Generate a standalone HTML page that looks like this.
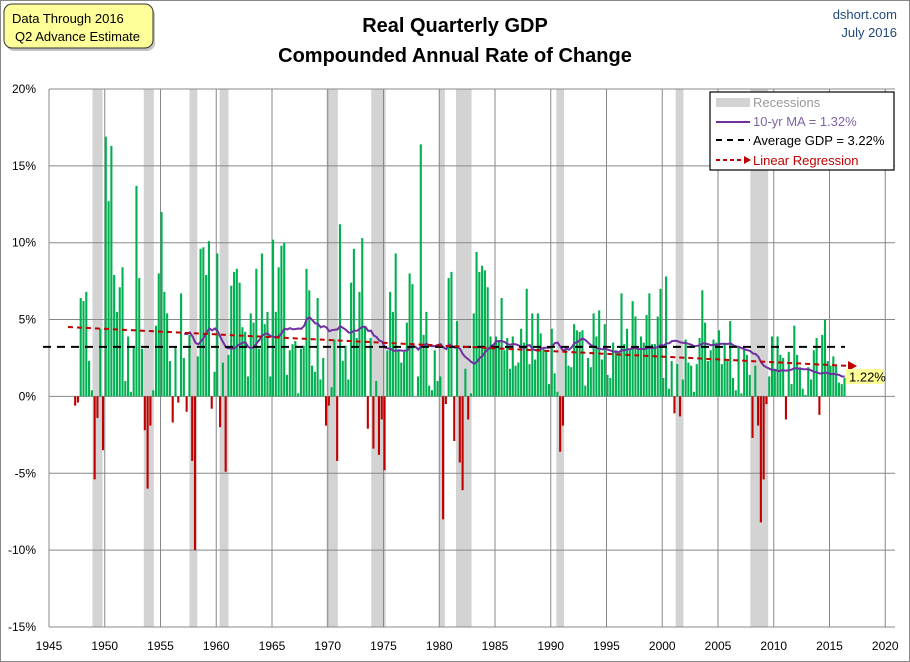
<!DOCTYPE html>
<html><head><meta charset="utf-8"><style>
body{margin:0;background:#fff;}
#c{position:relative;width:910px;height:662px;overflow:hidden;font-family:"Liberation Sans",sans-serif;}
</style></head><body><div id="c"><svg id="s" width="910" height="662" xmlns="http://www.w3.org/2000/svg"></svg></div>
<script>
var d=[-0.6,-0.4,6.4,6.2,6.8,2.3,0.4,-5.4,-1.4,4.4,-3.5,16.9,12.7,16.3,7.9,5.5,7.1,8.4,1.0,3.9,0.3,3.2,13.7,7.7,3.1,-2.2,-6.0,-1.9,0.4,4.6,8.0,12.0,6.8,5.4,2.3,-1.7,3.2,-0.4,6.7,2.5,-1.0,4.0,-4.2,-10.0,2.6,9.6,9.7,7.9,10.1,-0.8,1.6,9.3,-2.0,2.2,-4.9,2.7,7.2,8.1,8.3,7.4,4.5,4.2,1.3,5.4,4.8,8.3,3.1,9.3,4.7,5.5,1.3,10.2,5.5,8.4,9.8,10.0,1.4,3.0,3.4,3.6,0.2,3.1,3.3,8.3,6.9,2.0,1.6,6.4,1.1,2.5,-1.9,-0.6,0.6,3.7,-4.2,11.2,2.3,3.3,1.1,7.4,9.6,3.8,6.8,10.3,4.5,-2.1,3.8,-3.4,1.0,-3.8,-1.5,-4.8,3.0,6.8,5.5,9.3,3.0,2.2,2.9,4.8,8.0,7.3,0.0,1.3,16.4,4.0,5.5,0.7,0.4,3.0,1.0,1.3,-8.0,-0.5,7.7,8.1,-2.9,4.9,-4.3,-6.1,1.8,-1.5,0.2,5.4,9.4,8.1,8.5,8.2,7.1,3.9,3.3,3.9,3.6,6.4,3.0,3.8,1.8,3.9,2.0,2.2,4.4,3.5,7.0,2.1,5.4,2.4,5.4,4.1,3.1,3.0,0.8,4.4,1.5,0.3,-3.6,-1.9,3.1,2.0,1.9,4.7,4.3,4.2,4.3,0.7,2.5,1.9,5.4,3.9,5.6,2.4,4.7,1.4,1.2,3.5,3.0,2.9,6.7,3.4,4.4,3.1,6.2,5.2,3.1,3.9,3.5,5.3,6.7,3.4,3.4,5.2,7.0,1.2,7.8,0.5,2.3,-1.1,2.1,-1.3,1.1,3.7,2.2,2.0,0.3,2.1,3.8,6.9,4.8,2.3,3.0,3.7,3.5,4.3,2.1,3.4,2.3,4.9,1.2,0.4,3.2,0.2,3.1,2.7,1.4,-2.7,2.0,-1.9,-8.2,-5.4,-0.5,1.3,3.9,1.7,3.9,2.7,2.5,-1.5,2.9,0.8,4.6,2.7,1.9,0.5,0.1,1.9,1.1,3.0,3.8,-1.2,4.0,5.0,2.3,2.0,2.6,2.0,0.9,0.8,1.2];
function X(t){return 49+(t-1945)*11.15;}
function Y(v){return 396.4-v*15.37;}
var h='';
var rec=[[1948.9,1949.8],[1953.5,1954.4],[1957.6,1958.3],[1960.3,1961.1],[1969.9,1970.9],[1973.9,1975.2],[1980.0,1980.5],[1981.5,1982.9],[1990.5,1991.2],[2001.2,2001.9],[2007.9,2009.5]];
rec.forEach(function(r){h+='<rect x="'+X(r[0])+'" y="89" width="'+(X(r[1])-X(r[0]))+'" height="538" fill="#d3d3d3"/>';});
for(var v=20;v>=-15;v-=5){var y=Y(v);h+='<line x1="49" x2="895" y1="'+y+'" y2="'+y+'" stroke="#888" stroke-width="1"/>';
h+='<text x="36" y="'+(y+4)+'" font-size="12" text-anchor="end">'+v+'%</text>';}
for(var t=1945;t<=2020;t+=5){var x=X(t);h+='<line x1="'+x+'" x2="'+x+'" y1="89" y2="627" stroke="#888"/>';
h+='<text x="'+x+'" y="650" font-size="12" text-anchor="middle">'+t+'</text>';}
var bw=2.1;
d.forEach(function(v,i){var t=1947.25+i*0.25;var x=X(t);var y0=Y(0),y1=Y(v);
h+='<rect x="'+x.toFixed(2)+'" y="'+Math.min(y0,y1).toFixed(2)+'" width="'+bw.toFixed(2)+'" height="'+Math.abs(y1-y0).toFixed(2)+'" fill="'+(v>=0?'#00b050':'#c00000')+'"/>';});
var p='';for(var i=39;i<d.length;i++){var s=0;for(var j=i-39;j<=i;j++)s+=d[j];var m=s/40;p+=(p?'L':'M')+(X(1947.25+i*0.25)+1.4).toFixed(1)+','+Y(m).toFixed(1);}
h+='<path d="'+p+'" fill="none" stroke="#7030a0" stroke-width="2"/>';
h+='<line x1="43" x2="845" y1="'+Y(3.22)+'" y2="'+Y(3.22)+'" stroke="#000" stroke-width="2" stroke-dasharray="8,6"/>';
h+='<line x1="68" y1="327" x2="850" y2="366" stroke="#c00000" stroke-width="2" stroke-dasharray="5,4"/>';
h+='<polygon points="848,361 857,366 848,371" fill="#c00000"/>';
h+='<rect x="846" y="369" width="38" height="15" fill="#ffff99"/><text x="849" y="381.5" font-size="13">1.22%</text>';
h+='<rect x="710" y="92" width="184" height="78" fill="#fff" stroke="#000" stroke-width="1.2"/>';
h+='<rect x="716" y="98" width="34" height="9" fill="#d3d3d3"/><text x="753" y="107" font-size="13" fill="#999">Recessions</text>';
h+='<line x1="716" x2="750" y1="122" y2="122" stroke="#7030a0" stroke-width="2"/><text x="753" y="126" font-size="13" fill="#8064a2">10-yr MA = 1.32%</text>';
h+='<line x1="716" x2="750" y1="140" y2="140" stroke="#000" stroke-width="2" stroke-dasharray="6,5"/><text x="753" y="145" font-size="13">Average GDP = 3.22%</text>';
h+='<line x1="716" x2="744" y1="160" y2="160" stroke="#c00000" stroke-width="2" stroke-dasharray="4,3"/><polygon points="744,156 751,160 744,164" fill="#c00000"/><text x="753" y="165" font-size="13" fill="#c00000">Linear Regression</text>';
h+='<rect x="0.5" y="0.5" width="909" height="661" fill="none" stroke="#888"/>';
h+='<rect x="6" y="7" width="149" height="44" rx="8" fill="#888" opacity="0.5"/><rect x="4" y="4" width="149" height="44" rx="8" fill="#ffff99" stroke="#333"/>';
h+='<text x="12" y="23" font-size="13">Data Through 2016</text><text x="15" y="41" font-size="13">Q2 Advance Estimate</text>';
h+='<text x="455" y="32" font-size="20" font-weight="bold" text-anchor="middle">Real Quarterly GDP</text>';
h+='<text x="455" y="62" font-size="20" font-weight="bold" text-anchor="middle">Compounded Annual Rate of Change</text>';
h+='<text x="897" y="19" font-size="13" text-anchor="end" fill="#1f497d">dshort.com</text><text x="897" y="37" font-size="13" text-anchor="end" fill="#1f497d">July 2016</text>';
document.getElementById('s').innerHTML=h;
</script></body></html>
